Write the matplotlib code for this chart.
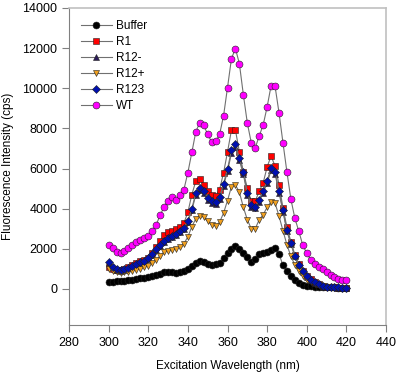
import matplotlib
matplotlib.use('Agg')
import matplotlib.pyplot as plt
import numpy as np

# excitation wavelengths, 300-420 nm every 2 nm
wl = list(range(300, 422, 2))

buffer = [330, 350, 370, 390, 410, 440, 460, 490, 520, 550,
          590, 630, 680, 750, 820, 840, 830, 800, 820, 900,
          1000, 1150, 1280, 1370, 1320, 1250, 1200, 1220, 1280, 1520,
          1780, 2000, 2150, 1980, 1780, 1570, 1330, 1480, 1730, 1780,
          1850, 1930, 2030, 1750, 1170, 870, 620, 420, 280, 200,
          150, 120, 100, 90, 80, 75, 70, 70, 65, 65, 60]

r1 = [1080, 1000, 950, 950, 1000, 1100, 1200, 1280, 1370, 1430,
      1550, 1800, 2080, 2370, 2700, 2830, 2900, 2970, 3100, 3280,
      3820, 4700, 5370, 5480, 5200, 4870, 4700, 4650, 4950, 5780,
      6820, 7920, 7920, 6820, 5820, 5030, 4370, 4370, 4870, 5280,
      6080, 6620, 6120, 5200, 4030, 3070, 2350, 1700, 1250, 900,
      650, 470, 330, 240, 160, 110, 90, 75, 65, 60, 60]

r123 = [1320, 1100, 980, 930, 980, 1060, 1150, 1230, 1320, 1400,
        1530, 1730, 1980, 2170, 2370, 2530, 2650, 2750, 2870, 3030,
        3400, 4000, 4780, 5050, 4900, 4530, 4370, 4320, 4570, 5250,
        5980, 6900, 7200, 6530, 5830, 4800, 4180, 4100, 4440, 4880,
        5380, 6030, 5850, 4900, 3920, 2930, 2280, 1650, 1200, 870,
        620, 450, 320, 230, 150, 110, 90, 80, 70, 65, 60]

r12m = [v * 0.98 for v in r123]

r12p = [1000, 900, 850, 800, 820, 850, 900, 950, 1000, 1080,
        1150, 1300, 1450, 1650, 1850, 1900, 1950, 2000, 2080, 2250,
        2600, 3100, 3500, 3650, 3580, 3370, 3200, 3130, 3320, 3780,
        4400, 5100, 5180, 4820, 4070, 3450, 3000, 3000, 3450, 3700,
        4070, 4350, 4280, 3630, 2900, 2200, 1620, 1200, 870, 620,
        450, 330, 240, 170, 120, 90, 70, 60, 55, 50, 50]

wt = [2180, 2050, 1820, 1800, 1900, 2020, 2170, 2320, 2420, 2520,
      2620, 2870, 3200, 3670, 4100, 4370, 4600, 4430, 4670, 4950,
      5800, 6800, 7830, 8290, 8150, 7700, 7320, 7350, 7700, 8620,
      10030, 11480, 11980, 11220, 9680, 8270, 7280, 7030, 7620, 8170,
      9070, 10130, 10100, 8780, 7280, 5820, 4470, 3520, 2870, 2180,
      1770, 1450, 1230, 1080, 980, 850, 700, 580, 500, 450, 420]

series = [
    ('Buffer', buffer, 'o', 'black'),
    ('R1', r1, 's', 'red'),
    ('R12-', r12m, '^', '#2b1b5a'),
    ('R12+', r12p, 'v', '#f0a020'),
    ('R123', r123, 'D', '#0010b0'),
    ('WT', wt, 'o', '#ff00ff'),
]

plt.rcParams['font.family'] = 'Liberation Sans'
fig = plt.figure(figsize=(4, 3.75), dpi=100)
ax = fig.add_axes([0.1725, 0.1333, 0.7925, 0.8454])

for name, vals, mk, col in series:
    ms = 5.0 if mk != 'D' else 4.4
    ax.plot(wl, vals, color='#707070', lw=0.8, marker=mk, ms=ms,
            mfc=col, mec='#202020', mew=0.4, label=name)

ax.set_xlim(280, 440)
ax.set_ylim(-1800, 14000)
ax.set_xticks(np.arange(280, 441, 20))
ax.set_yticks(np.arange(0, 14001, 2000))
ax.tick_params(labelsize=9, direction='out', length=5, color='#808080')
for s in ['left', 'bottom']:
    ax.spines[s].set_color('#808080')
for s in ['top', 'right']:
    ax.spines[s].set_color('#c0c0c0')
    ax.spines[s].set_linewidth(1.2)

ax.set_xlabel('Excitation Wavelength (nm)', fontsize=8.5, labelpad=8)
ax.set_ylabel('Fluorescence Intensity (cps)', fontsize=8.5, labelpad=6)

ax.legend(loc='upper left', frameon=False, fontsize=8.5, handlelength=2.6,
          labelspacing=0.35, borderaxespad=0.6, handletextpad=0.4)

fig.savefig('out.png', dpi=100)
